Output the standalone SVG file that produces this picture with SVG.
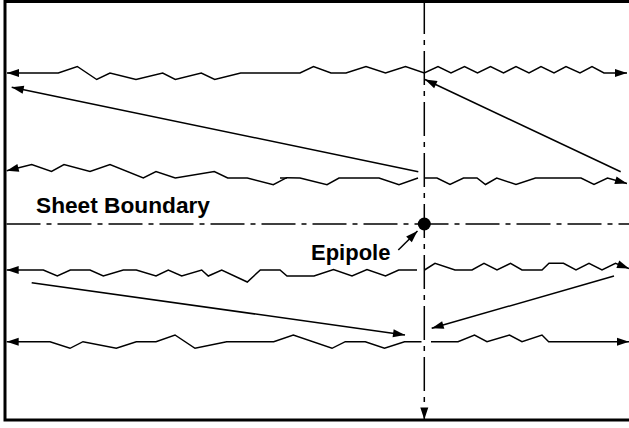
<svg xmlns="http://www.w3.org/2000/svg" width="629" height="428" viewBox="0 0 629 428">
<defs>
<marker id="ah" markerUnits="userSpaceOnUse" markerWidth="13" markerHeight="9" refX="12" refY="4" orient="auto-start-reverse" overflow="visible">
<path d="M0,0 L12,4 L0,8 z" fill="#000"/>
</marker>
<style>
.ln{fill:none;stroke:#000;stroke-width:1.5;stroke-linejoin:miter}
.ax{fill:none;stroke:#000;stroke-width:1.5;stroke-dasharray:34 6 5 6}
.lbl{font-family:"Liberation Sans",Arial,sans-serif;font-weight:bold;fill:#000}
</style>
</defs>
<rect x="0" y="0" width="629" height="428" fill="#fff"/>
<rect id="frame" x="5" y="1.5" width="640" height="418.5" fill="none" stroke="#000" stroke-width="3"/>
<g id="axes">
<line class="ax" x1="6.5" y1="224" x2="629" y2="224"/>
<line class="ax" x1="424.3" y1="0" x2="424.3" y2="419.5" marker-end="url(#ah)"/>
</g>
<g id="epipole">
<circle cx="424.3" cy="224" r="6.5" fill="#000"/>
<text class="lbl" x="311" y="260" font-size="22">Epipole</text>
</g>
<g id="sheet-boundary">
<text class="lbl" x="36" y="213.3" font-size="22.7">Sheet Boundary</text>
</g>
<g id="connectors">
<polyline class="ln" marker-start="url(#ah)" marker-end="url(#ah)" points="7,73 58.3,73 77.3,66.5 96.7,79.5 110,73 136,79.5 162.7,73 175.3,79.5 201.3,73 214.7,79.5 240.7,73 300,73 313.5,66.5 331,73 346,73 366,66.5 385.5,73 405.5,66.5 424.3,73 438,66.5 451,73 464.5,66.5 477.5,73 490.5,66.5 503.5,73 516,66.5 529,73 541,66.5 554,73 566,66.5 580,73 592,66.5 604,73 627,73"/>
<polyline class="ln" marker-start="url(#ah)" points="6.7,170.7 31.7,164.5 51.5,171.5 64,164.5 90,171.5 110,164.5 143.3,178 156,171.5 175.3,178 214.3,171.5 227.7,178 247.3,178 273.3,184.7 286.7,177.7 300,178 327,184.7 339,178 379,178 399,184.7 418,178"/>
<line class="ln" x1="280" y1="178" x2="287" y2="178"/>
<polyline class="ln" marker-end="url(#ah)" points="424.5,178 437,178 450,184.5 463.5,178 477,178 485.5,184.5 496.7,178 516,184.5 535.5,178 581,178 594,184.5 607.5,178 627,183.5"/>
<polyline class="ln" marker-start="url(#ah)" points="6.7,270 43.3,270 57.3,276 70.3,270 90,270 103.3,276 123.3,270 136.3,270 156,276 168.3,270 181.7,276 201.7,270 208.3,276 221.7,270 247.3,282 260.3,270 280,270 287,276 314,276 333.5,269.5 352,276 367,269.5 385.5,276 398.7,270 417,270"/>
<polyline class="ln" marker-end="url(#ah)" points="424.5,270 435,263.3 455,270 472,270 484,263.3 497,270 510.5,263.3 522,270 542,270 549,263.3 563.5,263.3 576,270 589,263.3 602,270 615.5,263.3 629,268.5"/>
<polyline class="ln" marker-start="url(#ah)" points="6.7,341.7 50,341.7 70,348.3 83,341.7 116.3,348.3 136.3,341.7 156,341.7 175,335 195,348.3 226.7,341.7 273.7,341.7 293.3,335 332,348.3 345.3,341.7 365.3,341.7 384.5,348.3 404.5,341.7 421.5,341.7"/>
<polyline class="ln" marker-end="url(#ah)" points="431,341.7 458,341.7 474.5,335 487,341.7 509.5,335 522,341.7 542,335 548.7,341.7 629,341.7"/>
<line class="ln" x1="418.3" y1="171.7" x2="11.7" y2="87.3" marker-end="url(#ah)"/>
<line class="ln" x1="620.7" y1="171.7" x2="425" y2="79.5" marker-end="url(#ah)"/>
<line class="ln" x1="31.7" y1="282.7" x2="405" y2="335" marker-end="url(#ah)"/>
<line class="ln" x1="614" y1="276" x2="431.7" y2="328.3" marker-end="url(#ah)"/>
<line class="ln" x1="398.3" y1="250" x2="417.5" y2="231" marker-end="url(#ah)"/>
</g>
</svg>
